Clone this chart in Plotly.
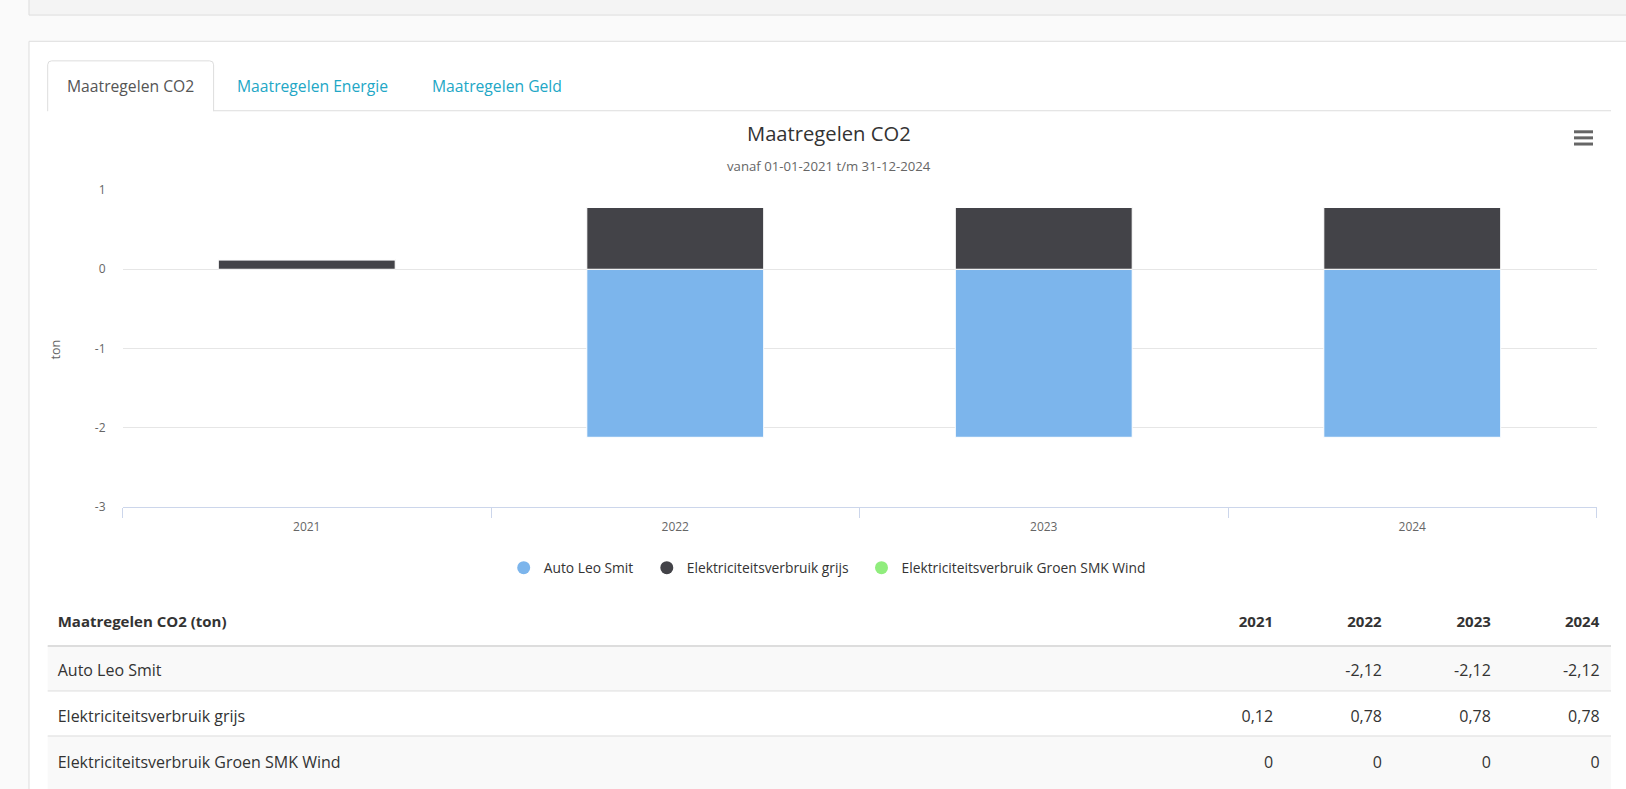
import plotly.graph_objects as go

# ---------------- data ----------------
years = ["2021", "2022", "2023", "2024"]
series_names = ["Auto Leo Smit", "Elektriciteitsverbruik grijs", "Elektriciteitsverbruik Groen SMK Wind"]
auto_leo_smit = [None, -2.12, -2.12, -2.12]
elek_grijs = [0.12, 0.78, 0.78, 0.78]
elek_groen = [0, 0, 0, 0]
series_colors = ["#7cb5ec", "#434348", "#90ed7d"]
y_ticks = [-3, -2, -1, 0, 1]
tabs = ["Maatregelen CO2", "Maatregelen Energie", "Maatregelen Geld"]
chart_title = "Maatregelen CO2"
chart_subtitle = "vanaf 01-01-2021 t/m 31-12-2024"
table_title = "Maatregelen CO2 (ton)"
y_unit = "ton"

# ---------------- helpers (pixel -> paper) ----------------
W, H = 1626, 789
def X(px):
    return px / W
def Y(py):
    return 1 - py / H

FONT = "Open Sans"
series_values = [auto_leo_smit, elek_grijs, elek_groen]

fig = go.Figure()

for name, vals, col in zip(series_names, series_values, series_colors):
    fig.add_trace(go.Bar(
        x=years, y=vals, name=name, showlegend=False,
        marker=dict(color=col, line=dict(color="white", width=1)),
    ))

legend_ids = ["legend", "legend2", "legend3"]
legend_circle_x = [524.7, 667.8, 882.5]
for name, col, lid in zip(series_names, series_colors, legend_ids):
    fig.add_trace(go.Scatter(
        x=[None], y=[None], mode="markers", name=name, legend=lid, showlegend=True,
        marker=dict(color=col, size=13, symbol="circle"),
    ))

def fmt(v):
    if v is None:
        return ""
    if v == 0:
        return "0"
    return f"{v:.2f}".replace(".", ",")

header_vals = [f"<b>{table_title}</b>"] + [f"<b>{y}</b>" for y in years]
cell_vals = [series_names] + [[fmt(s[i]) for s in series_values] for i in range(len(years))]

fig.add_trace(go.Table(
    domain=dict(x=[X(49.7), X(1608)], y=[0, Y(607)]),
    columnwidth=[1122.9, 108.9, 108.9, 108.9, 108.9],
    header=dict(values=header_vals, height=53,
                align=["left", "right", "right", "right", "right"],
                fill=dict(color="rgba(0,0,0,0)"),
                line=dict(color="rgba(0,0,0,0)", width=0),
                font=dict(family=FONT, size=15, color="#333333")),
    cells=dict(values=cell_vals, height=46,
               align=["left", "right", "right", "right", "right"],
               fill=dict(color="rgba(0,0,0,0)"),
               line=dict(color="rgba(0,0,0,0)", width=0),
               font=dict(family=FONT, size=16, color="#333333")),
))

shapes = []
# top box
shapes.append(dict(type="rect", xref="paper", yref="paper", layer="below",
                   x0=X(29), x1=X(1700), y0=Y(-10), y1=Y(6.2),
                   fillcolor="#f4f4f4", line=dict(color="#dddddd", width=1)))
# main panel
shapes.append(dict(type="rect", xref="paper", yref="paper", layer="below",
                   x0=X(29), x1=X(1700), y0=Y(900), y1=Y(33),
                   fillcolor="#ffffff", line=dict(color="#dddddd", width=1)))
# tab underline
shapes.append(dict(type="line", xref="paper", yref="paper", layer="below",
                   x0=X(213.6), x1=X(1611), y0=Y(104), y1=Y(104),
                   line=dict(color="#dddddd", width=1)))
# active tab
tab_path = (f"M {X(47.7)},{Y(104.5)} L {X(47.7)},{Y(57)} Q {X(47.7)},{Y(53)} {X(51.7)},{Y(53)} "
            f"L {X(209.6)},{Y(53)} Q {X(213.6)},{Y(53)} {X(213.6)},{Y(57)} L {X(213.6)},{Y(104.5)}")
shapes.append(dict(type="path", xref="paper", yref="paper", layer="below", path=tab_path,
                   fillcolor="#ffffff", line=dict(color="#dddddd", width=1)))
# hamburger icon
for yy in [125.5, 131.7, 138]:
    shapes.append(dict(type="line", xref="paper", yref="paper", layer="above",
                       x0=X(1574), x1=X(1593), y0=Y(yy), y1=Y(yy),
                       line=dict(color="#666666", width=3)))
# table row backgrounds and rules
for (y0, y1) in [(651, 697), (743, 800)]:
    shapes.append(dict(type="rect", xref="paper", yref="paper", layer="below",
                       x0=X(47.7), x1=X(1611), y0=Y(y1), y1=Y(y0),
                       fillcolor="#f9f9f9", line=dict(width=0)))
shapes.append(dict(type="line", xref="paper", yref="paper", layer="below",
                   x0=X(47.7), x1=X(1611), y0=Y(651), y1=Y(651),
                   line=dict(color="#dddddd", width=2)))
for yy in [697, 743]:
    shapes.append(dict(type="line", xref="paper", yref="paper", layer="below",
                       x0=X(47.7), x1=X(1611), y0=Y(yy), y1=Y(yy),
                       line=dict(color="#dddddd", width=1)))

annotations = []
tab_x = [130.7, 312, 496.7]
tab_col = ["#555555", "#22a7c6", "#22a7c6"]
for t, tx, tc in zip(tabs, tab_x, tab_col):
    annotations.append(dict(text=t, x=X(tx), y=Y(79), xref="paper", yref="paper",
                            showarrow=False, xanchor="center", yanchor="middle",
                            font=dict(family=FONT, size=15.7, color=tc)))
annotations.append(dict(text=chart_title, x=X(828.6), y=Y(126.5), xref="paper", yref="paper",
                        showarrow=False, xanchor="center", yanchor="middle",
                        font=dict(family=FONT, size=20.2, color="#333333")))
annotations.append(dict(text=chart_subtitle, x=X(828.6), y=Y(160.7), xref="paper", yref="paper",
                        showarrow=False, xanchor="center", yanchor="middle",
                        font=dict(family=FONT, size=13.2, color="#666666")))
annotations.append(dict(text=y_unit, x=X(56), y=Y(348), xref="paper", yref="paper",
                        showarrow=False, xanchor="center", yanchor="middle", textangle=-90,
                        font=dict(family=FONT, size=12.5, color="#666666")))

legend_common = dict(orientation="h", xanchor="left", yanchor="middle", y=Y(571),
                     font=dict(family=FONT, size=13.8, color="#333333"),
                     bgcolor="rgba(0,0,0,0)", itemwidth=30)

fig.update_layout(
    width=W, height=H,
    margin=dict(l=0, r=0, t=0, b=0),
    paper_bgcolor="#fafafa",
    plot_bgcolor="#ffffff",
    barmode="relative",
    bargap=0.52,
    font=dict(family=FONT, color="#333333"),
    shapes=shapes,
    annotations=annotations,
    showlegend=True,
    legend=dict(x=X(legend_circle_x[0] - 21), **legend_common),
    legend2=dict(x=X(legend_circle_x[1] - 21), **legend_common),
    legend3=dict(x=X(legend_circle_x[2] - 21), **legend_common),
    xaxis=dict(domain=[X(122.5), X(1596.5)], type="category",
               showgrid=False, showline=True, linecolor="#ccd6eb", linewidth=1,
               ticks="outside", tickson="boundaries", ticklen=10, tickcolor="#ccd6eb",
               ticklabelstandoff=9,
               tickfont=dict(family=FONT, size=12, color="#666666"), fixedrange=True),
    yaxis=dict(domain=[Y(509), Y(185)], range=[-3, 1], tickvals=y_ticks,
               ticktext=[str(v) for v in y_ticks],
               showgrid=True, gridcolor="#e6e6e6", gridwidth=1, zeroline=False,
               showline=False, ticks="", ticklabelstandoff=16,
               tickfont=dict(family=FONT, size=12, color="#666666"), fixedrange=True),
)

fig.write_html("out.html", config={"displayModeBar": False, "staticPlot": True},
               post_script=("document.documentElement.style.margin='0';"
                            "document.documentElement.style.background='#fafafa';"
                            "document.body.style.background='#fafafa';"
                            "document.body.style.margin='0';document.body.style.overflow='hidden';"))
